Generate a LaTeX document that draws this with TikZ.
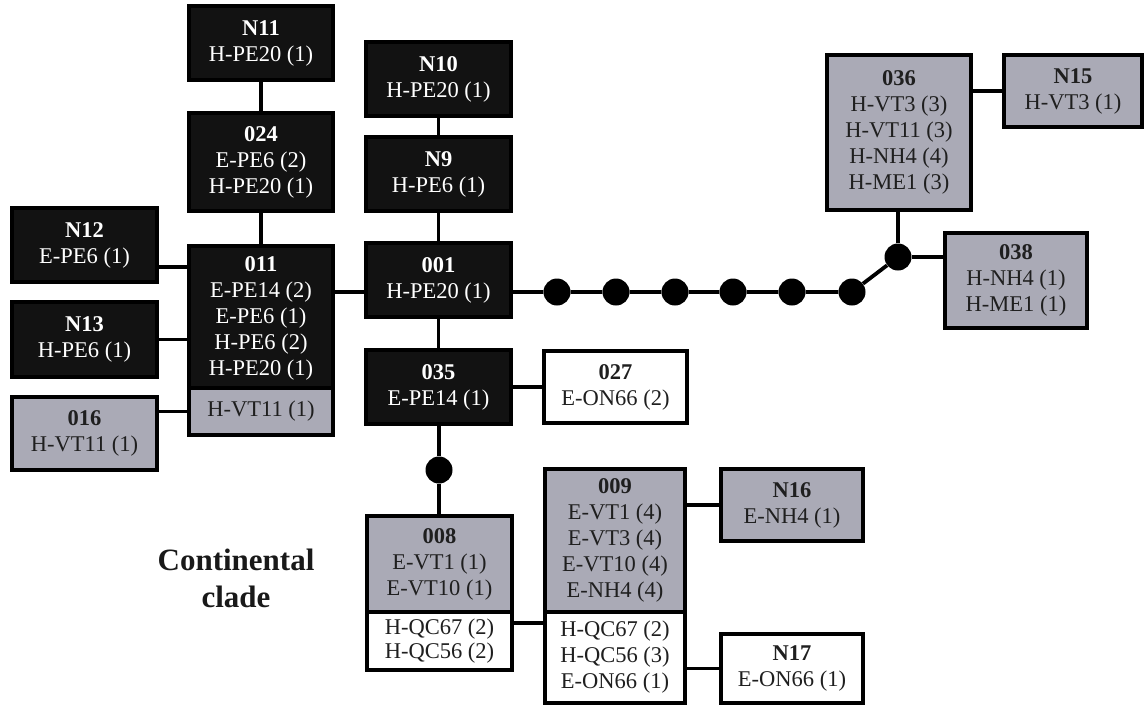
\documentclass[tikz,border=0pt]{standalone}
\usepackage{fontspec}
\setmainfont{Liberation Serif}
\definecolor{boxgray}{RGB}{170,170,182}
\definecolor{boxblack}{RGB}{18,18,18}
\begin{document}
\begin{tikzpicture}[x=1pt,y=-1pt,
  box/.style={draw=black, line width=4pt, inner sep=0pt, align=center,
    font=\fontsize{22.5}{26}\selectfont},
  blk/.style={box, fill=boxblack, text=white},
  gry/.style={box, fill=boxgray, text=black!88},
  wht/.style={box, fill=white, text=black!88},
  dot/.style={circle, fill=black, inner sep=0pt, minimum size=27pt},
  link/.style={line width=3.8pt, draw=black},
  sz/.style 2 args={minimum width=#1pt, minimum height=#2pt}]
\useasboundingbox (0,0) rectangle (1145,705);

% nodes
\node[blk, sz={144}{74}] (N11) at (261,43) {\textbf{N11}\\H-PE20 (1)};
\node[blk, sz={144}{98}] (o24) at (261,162) {\textbf{024}\\E-PE6 (2)\\H-PE20 (1)};
\node[blk, sz={145}{74}] (N10) at (438.5,79) {\textbf{N10}\\H-PE20 (1)};
\node[blk, sz={145}{74}] (N9) at (438.5,174) {\textbf{N9}\\H-PE6 (1)};
\node[blk, sz={145}{74}] (N12) at (84.5,245) {\textbf{N12}\\E-PE6 (1)};
\node[blk, sz={144}{145}] (o11t) at (261,318) {\textbf{011}\\E-PE14 (2)\\E-PE6 (1)\\H-PE6 (2)\\H-PE20 (1)};
\node[gry, sz={144}{47}] (o11b) at (261,411.5) {H-VT11 (1)};
\node[blk, sz={145}{74}] (o01) at (438.5,280) {\textbf{001}\\H-PE20 (1)};
\node[blk, sz={145}{75}] (N13) at (84.5,339.5) {\textbf{N13}\\H-PE6 (1)};
\node[blk, sz={145}{74}] (o35) at (438.5,387) {\textbf{035}\\E-PE14 (1)};
\node[gry, sz={145}{73}] (o16) at (84.5,433.5) {\textbf{016}\\H-VT11 (1)};
\node[wht, sz={143}{72}] (o27) at (615.5,387) {\textbf{027}\\E-ON66 (2)};
\node[dot] (d0) at (439,470) {};
\node[gry, sz={145}{96}] (o08t) at (439.5,564) {\textbf{008}\\E-VT1 (1)\\E-VT10 (1)};
\node[wht, sz={145}{58}] (o08b) at (439.5,641) {H-QC67 (2)\\[-2pt]H-QC56 (2)};
\node[gry, sz={140}{143}] (o09t) at (615,540.5) {\textbf{009}\\E-VT1 (4)\\E-VT3 (4)\\E-VT10 (4)\\E-NH4 (4)};
\node[wht, sz={140}{91}] (o09b) at (615,657.5) {H-QC67 (2)\\H-QC56 (3)\\E-ON66 (1)};
\node[gry, sz={142}{72}] (N16) at (792,505) {\textbf{N16}\\E-NH4 (1)};
\node[wht, sz={142}{69}] (N17) at (792,668.5) {\textbf{N17}\\E-ON66 (1)};
\node[gry, sz={144}{155}] (o36) at (899,132.5) {\textbf{036}\\H-VT3 (3)\\H-VT11 (3)\\H-NH4 (4)\\H-ME1 (3)};
\node[gry, sz={138}{72}] (N15) at (1073,91) {\textbf{N15}\\H-VT3 (1)};
\node[gry, sz={142}{95}] (o38) at (1016,280.5) {\textbf{038}\\H-NH4 (1)\\H-ME1 (1)};
\node[dot] (j) at (898,257) {};
\node[dot] (d1) at (557,292) {};
\node[dot] (d2) at (616,292) {};
\node[dot] (d3) at (675,292) {};
\node[dot] (d4) at (733,292) {};
\node[dot] (d5) at (792,292) {};
\node[dot] (d6) at (852,292) {};

\node[font=\fontsize{31}{37}\selectfont\bfseries, align=center, text=black!90] (cc) at (236,578) {Continental\\clade};

% connectors
\draw[link] (N11) -- (o24);
\draw[link] (o24) -- (o11t);
\draw[link] (N10) -- (N9);
\draw[link] (N9) -- (o01);
\draw[link] (o01) -- (o35);
\draw[link] (N12.east |- 0,267) -- (o11t.west |- 0,267);
\draw[link] (N13.east) -- (N13.east -| o11t.west);
\draw[link] (o11b.west) -- (o11b.west -| o16.east);
\draw[link] (o11t.east |- 0,292) -- (o01.west |- 0,292);
\draw[link] (o01.east |- d1) -- (d1) -- (d2) -- (d3) -- (d4) -- (d5) -- (d6) -- (j);
\draw[link] (j) -- (j |- o36.south);
\draw[link] (j) -- (j -| o38.west);
\draw[link] (o36.east |- N15.west) -- (N15.west);
\draw[link] (o35.east) -- (o35.east -| o27.west);
\draw[link] (o35.south -| d0) -- (d0) -- (d0 |- o08t.north);
\draw[link] (o08b.east |- 0,623) -- (o09b.west |- 0,623);
\draw[link] (o09t.east |- N16.west) -- (N16.west);
\draw[link] (o09b.east |- N17.west) -- (N17.west);
\end{tikzpicture}
\end{document}
